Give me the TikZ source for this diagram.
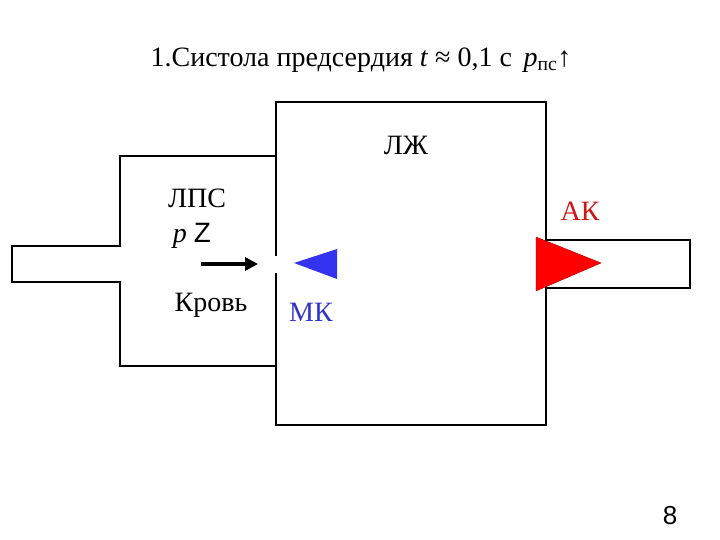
\documentclass[tikz,border=0pt]{standalone}
\usepackage{fontspec}
\setmainfont{Liberation Serif}
\setsansfont{Liberation Sans}
\usetikzlibrary{arrows.meta}
\definecolor{mkblue}{RGB}{51,51,240}
\definecolor{mktext}{RGB}{51,51,204}
\definecolor{aktext}{RGB}{210,20,20}

\begin{document}
\begin{tikzpicture}[x=1pt, y=-1pt,
    wall/.style={line width=2.4pt, line join=miter, line cap=rect},
    lbl/.style={inner sep=0pt, font=\fontsize{28}{32}\selectfont}]
  \useasboundingbox (0,0) rectangle (720,540);

  % title and page number
  \node[lbl] (title) at (361,60)
    {1.Систола предсердия \textit{t} ≈ 0,1 с \,\textit{p}\textsubscript{пс}↑};
  \node[lbl, font=\sffamily\fontsize{26}{30}\selectfont] (page) at (670,516) {8};

  % left pipe and atrium
  \draw[wall] (276,156) -- (120,156) -- (120,246) -- (12,246) -- (12,282)
    -- (120,282) -- (120,366) -- (276,366);

  % ventricle
  \draw[wall] (276,255) -- (276,102) -- (546,102) -- (546,425) -- (276,425) -- (276,274);

  % aorta
  \draw[wall] (546,240) -- (690,240) -- (690,288) -- (546,288);

  % valves
  \fill[mkblue] (294,263) -- (337,249) -- (337,279) -- cycle;
  \filldraw[fill=red, draw=red!70!black, thin] (536,237) -- (601,263) -- (536,291) -- cycle;

  % labels
  \node[lbl] (lps)   at (197,198) {ЛПС};
  \node[lbl] (pz)    at (192,236) {\textit{p} \textsf{Z}};
  \node[lbl] (blood) at (211,305) {Кровь};
  \node[lbl, text=mktext] (mk) at (311,312) {МК};
  \node[lbl] (lzh)   at (406,145) {ЛЖ};
  \node[lbl, text=aktext] (ak) at (580,211) {АК};

  % flow
  \coordinate (flowA) at (201,264);
  \coordinate (flowB) at (258,264);
  \draw[line width=4pt, -{Triangle[length=13pt, width=13pt]}] (flowA) -- (flowB);
\end{tikzpicture}
\end{document}
